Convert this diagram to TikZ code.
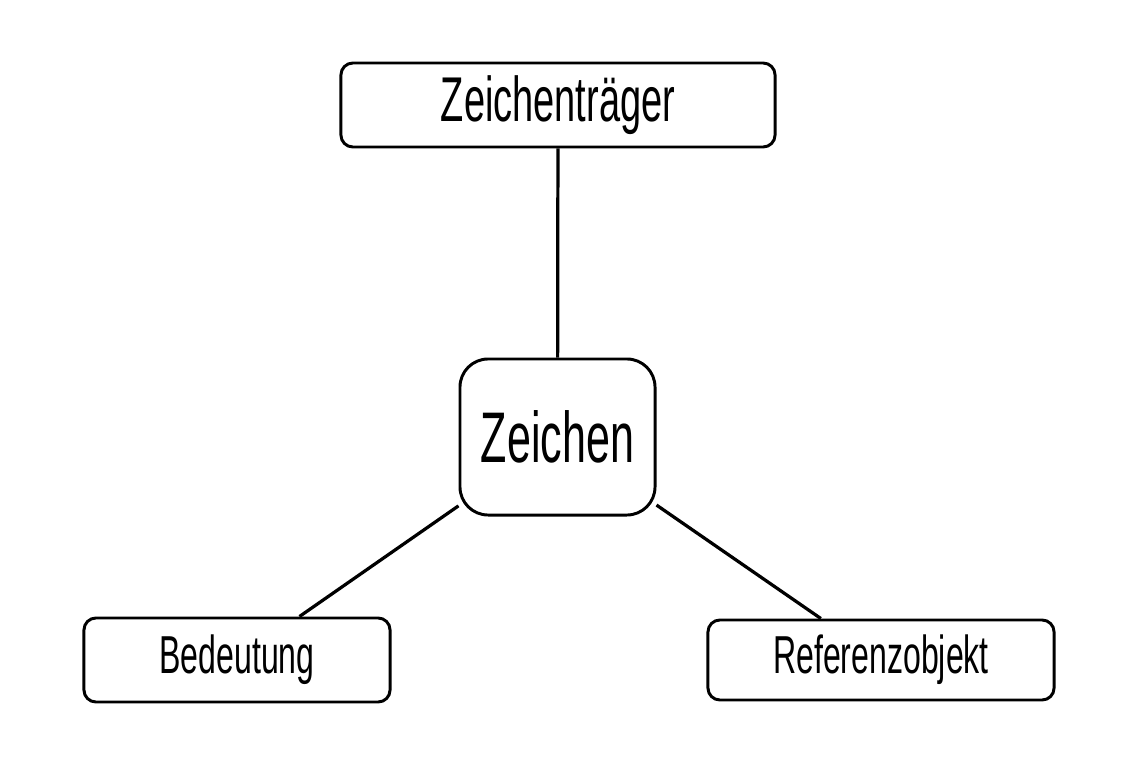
\documentclass[tikz,border=0pt]{standalone}
\usepackage{fontspec}
\setmainfont[FakeStretch=0.6]{Liberation Sans}
\usepackage{tikz}
\usetikzlibrary{positioning}

\begin{document}
\begin{tikzpicture}[
    x=0.025cm, y=-0.025cm,
    box/.style={rectangle, draw, rounded corners=8.5pt, line width=2.1pt,
                text centered, minimum width=7.65cm, minimum height=2.1cm,
                font=\fontsize{38}{42}\selectfont, fill=white},
    bigbox/.style={box, rounded corners=20pt, minimum width=4.875cm,
                minimum height=3.9cm, font=\fontsize{51}{56}\selectfont},
    conn/.style={line width=2.3pt}
]
\useasboundingbox (0,0) rectangle (1138,776);

%% top and centre
\node[box, minimum width=10.85cm, font=\fontsize{45}{50}\selectfont]
      (traeger) at (558,105)   {Zeichenträger};
\node[bigbox] (zeichen) at (557.5,437) {Zeichen};

%% bottom row
\node[box]    (bedeutung) at (237,660)   {Bedeutung};
\node[box, minimum width=8.65cm, minimum height=2.0cm]
      (referenz)  at (881,660)   {Referenzobjekt};

%% connectors
\draw[conn] (traeger) -- (zeichen);
\draw[conn] (zeichen) -- (bedeutung);
\draw[conn] (zeichen) -- (referenz);

\end{tikzpicture}
\end{document}
